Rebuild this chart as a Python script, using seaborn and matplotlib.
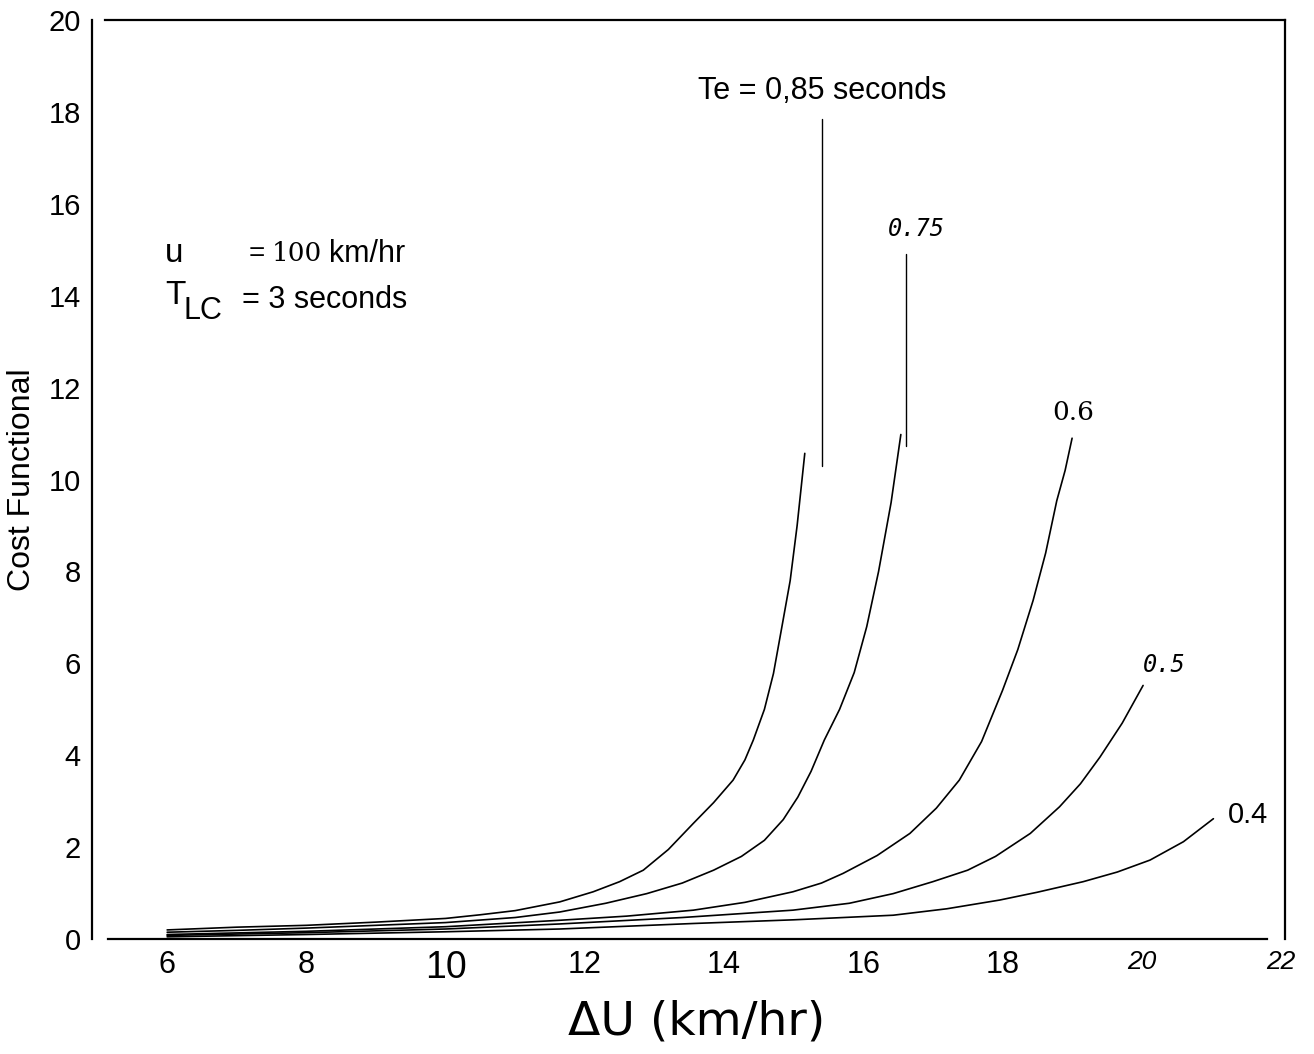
import matplotlib
matplotlib.use("Agg")
import matplotlib.pyplot as plt
from matplotlib import font_manager
import seaborn as sns
import pandas as pd

# curve values (delta U in km/hr, cost functional)
te_labels = ["0.85", "0.75", "0.6", "0.5", "0.4"]

x_085 = [6, 7, 8, 9, 10, 10.5, 11, 11.64, 12.12, 12.5, 12.84, 13.2, 13.56, 13.85, 14.13,
         14.3, 14.42, 14.58, 14.71, 14.84, 14.95, 15.05, 15.16]
y_085 = [0.2, 0.26, 0.3, 0.37, 0.45, 0.53, 0.62, 0.81, 1.03, 1.25, 1.5, 1.95, 2.52, 2.97, 3.46,
         3.9, 4.33, 5.0, 5.78, 6.87, 7.8, 9.0, 10.57]

x_075 = [6, 7, 8, 9, 10, 11, 11.64, 12.3, 12.89, 13.4, 13.85, 14.25, 14.58, 14.85, 15.06,
         15.25, 15.44, 15.66, 15.87, 16.05, 16.22, 16.4, 16.54]
y_075 = [0.15, 0.19, 0.24, 0.3, 0.36, 0.47, 0.59, 0.78, 0.99, 1.22, 1.5, 1.8, 2.15, 2.6, 3.09,
         3.65, 4.33, 5.0, 5.8, 6.8, 8.0, 9.5, 10.98]

x_06 = [6, 8, 10, 11.64, 12.6, 13.56, 14.3, 14.99, 15.4, 15.71, 16.2, 16.67, 17.05, 17.38,
        17.7, 18.0, 18.22, 18.44, 18.62, 18.78, 18.9, 19.0]
y_06 = [0.1, 0.17, 0.27, 0.41, 0.5, 0.63, 0.8, 1.03, 1.22, 1.43, 1.82, 2.3, 2.85, 3.46,
        4.3, 5.41, 6.3, 7.37, 8.4, 9.54, 10.2, 10.9]

x_05 = [6, 8, 10, 11.64, 13.4, 14.99, 15.8, 16.43, 17.0, 17.5, 17.9, 18.4, 18.82, 19.12,
        19.4, 19.72, 20.02]
y_05 = [0.08, 0.14, 0.22, 0.33, 0.47, 0.63, 0.78, 0.99, 1.25, 1.5, 1.8, 2.3, 2.88, 3.38,
        3.96, 4.7, 5.52]

x_04 = [6, 8, 10, 11.64, 13.56, 15.0, 16.43, 17.2, 17.96, 18.5, 19.16, 19.65, 20.12, 20.6, 21.03]
y_04 = [0.05, 0.1, 0.16, 0.22, 0.34, 0.42, 0.52, 0.66, 0.85, 1.02, 1.25, 1.46, 1.72, 2.12, 2.62]

# leader lines from the labels down to the curves
leader_085_x = [15.41, 15.41]
leader_085_y = [17.85, 10.3]
leader_075_x = [16.61, 16.61]
leader_075_y = [14.9, 10.74]

x_ticks = [6, 8, 10, 12, 14, 16, 18, 20, 22]
y_ticks = [0, 2, 4, 6, 8, 10, 12, 14, 16, 18, 20]

curves = {"0.85": (x_085, y_085), "0.75": (x_075, y_075), "0.6": (x_06, y_06),
          "0.5": (x_05, y_05), "0.4": (x_04, y_04)}
rows = []
for te in te_labels:
    xs, ys = curves[te]
    for a, b in zip(xs, ys):
        rows.append({"du": a, "cost": b, "te": te})
df = pd.DataFrame(rows)

sns.set_theme(style="white")
names = {f.name for f in font_manager.fontManager.ttflist}
narrow = "Liberation Sans Narrow" if "Liberation Sans Narrow" in names else "Liberation Sans"
plt.rcParams["font.family"] = ["Liberation Sans", "DejaVu Sans"]
plt.rcParams["text.color"] = "black"
plt.rcParams["axes.labelcolor"] = "black"
plt.rcParams["xtick.color"] = "black"
plt.rcParams["ytick.color"] = "black"

fig = plt.figure(figsize=(13.14, 10.54), dpi=100)
ax = fig.add_axes([0.070, 0.109, 0.908, 0.872])

sns.lineplot(data=df, x="du", y="cost", hue="te", hue_order=te_labels,
             palette=["black"] * 5, linewidth=1.2, legend=False, sort=False,
             estimator=None, ax=ax)

ax.plot(leader_085_x, leader_085_y, color="black", lw=1.0)
ax.plot(leader_075_x, leader_075_y, color="black", lw=1.0)

ax.set_xlim(4.92, 22.06)
ax.set_ylim(0, 20)
ax.set_xticks(x_ticks)
ax.set_yticks(y_ticks)
ax.set_xticklabels([str(t) for t in x_ticks], family=narrow, fontsize=22)
ax.set_yticklabels([str(t) for t in y_ticks], fontsize=21)
for lab in ax.get_xticklabels():
    if lab.get_text() == "10":
        lab.set_fontsize(27)
    if lab.get_text() in ("20", "22"):
        lab.set_fontstyle("italic")
        lab.set_fontsize(19)
ax.tick_params(axis="x", direction="in", length=7, width=1.2, pad=8, colors="black")
ax.tick_params(axis="y", length=0, pad=8, colors="black")

for side in ["left", "right", "top", "bottom"]:
    ax.spines[side].set_visible(True)
    ax.spines[side].set_color("black")
    ax.spines[side].set_linewidth(1.6)
ax.spines["bottom"].set_bounds(5.15, 21.8)
ax.spines["top"].set_bounds(5.1, 22.06)

ax.set_xlabel("ΔU (km/hr)", fontsize=34, family="DejaVu Sans")
ax.xaxis.set_label_coords(0.507, -0.066)
ax.set_ylabel("Cost Functional", fontsize=23, family=narrow)
ax.yaxis.set_label_coords(-0.046, 0.50)

# annotations
ax.text(15.41, 18.46, "Te = 0,85 seconds", fontsize=22, ha="center", va="center")
ax.text(16.76, 15.46, "0.75", fontsize=17, family="DejaVu Sans Mono", style="italic",
        ha="center", va="center")
ax.text(19.01, 11.46, "0.6", fontsize=19, family="DejaVu Serif", ha="center", va="center")
ax.text(20.33, 5.96, "0.5", fontsize=17, family="DejaVu Sans Mono", style="italic",
        ha="center", va="center")
ax.text(21.24, 2.70, "0.4", fontsize=21, ha="left", va="center")

ax.text(5.97, 14.91, "u", fontsize=24, ha="left", va="center")
ax.text(7.17, 14.91, "=", fontsize=20, ha="left", va="center")
ax.text(7.50, 14.91, "100", fontsize=19, family="DejaVu Serif", ha="left", va="center")
ax.text(8.33, 14.91, "km/hr", fontsize=22, ha="left", va="center")
ax.text(5.97, 14.0, "T", fontsize=24, ha="left", va="center")
ax.text(6.24, 13.66, "LC", fontsize=22, ha="left", va="center")
ax.text(7.07, 13.90, "= 3 seconds", fontsize=22, ha="left", va="center")

fig.savefig("out.png", dpi=100)
